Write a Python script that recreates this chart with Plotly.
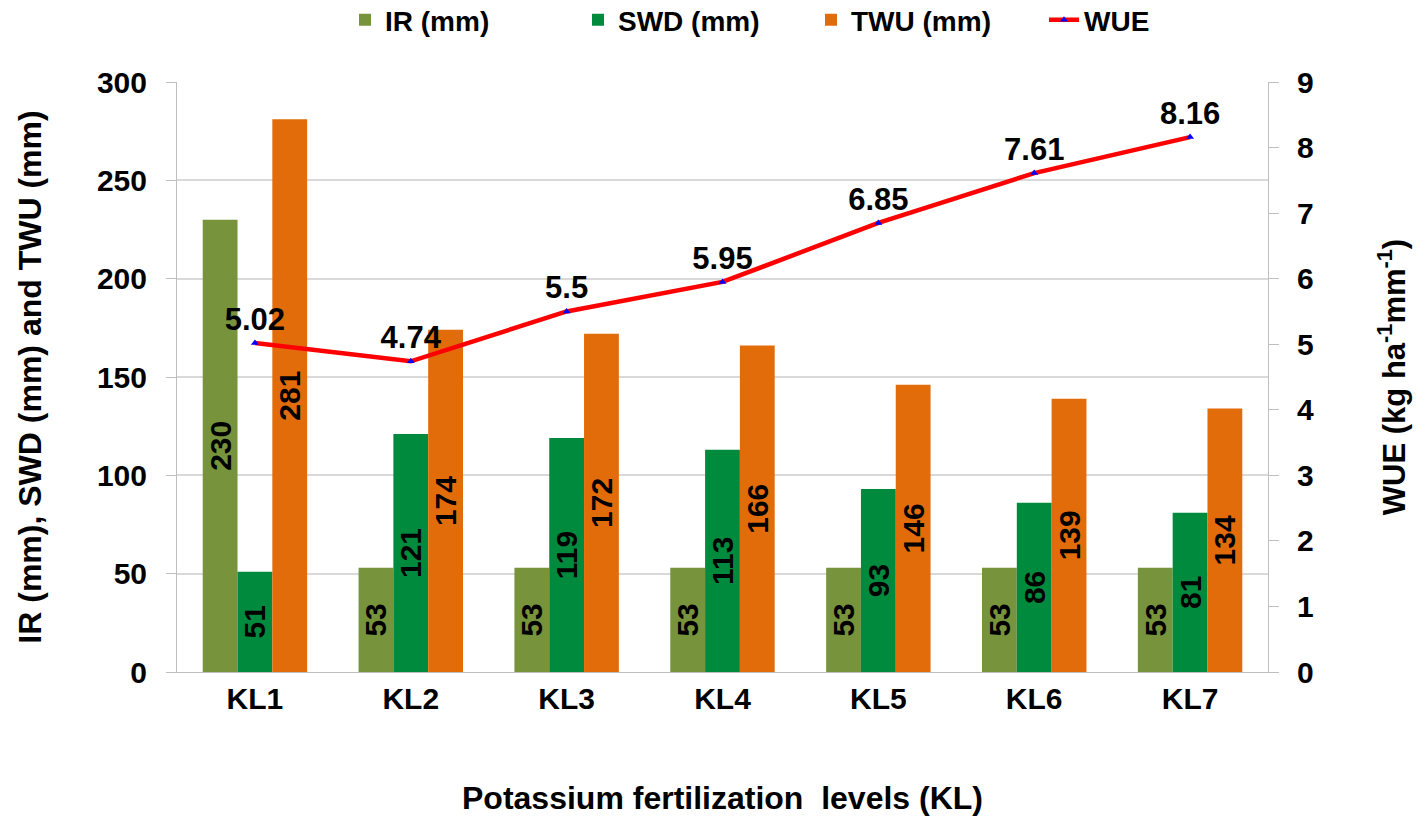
import plotly.graph_objects as go

categories = ["KL1", "KL2", "KL3", "KL4", "KL5", "KL6", "KL7"]
ir_values = [230, 53, 53, 53, 53, 53, 53]
swd_values = [51, 121, 119, 113, 93, 86, 81]
twu_values = [281, 174, 172, 166, 146, 139, 134]
wue_values = [5.02, 4.74, 5.5, 5.95, 6.85, 7.61, 8.16]
wue_labels = ["5.02", "4.74", "5.5", "5.95", "6.85", "7.61", "8.16"]

FONT = "Liberation Sans, Arial, sans-serif"
bar_text_font = dict(family=FONT, size=30, color="black", weight="bold")

fig = go.Figure()
for name, vals, col in [("IR (mm)", ir_values, "#77933C"),
                        ("SWD (mm)", swd_values, "#008A3E"),
                        ("TWU (mm)", twu_values, "#E36C0A")]:
    fig.add_trace(go.Bar(
        x=categories, y=vals, name=name, marker_color=col,
        marker_line_width=0,
        text=[str(v) for v in vals], textposition="inside",
        insidetextanchor="middle", textangle=-90,
        textfont=bar_text_font, constraintext="none",
        yaxis="y"))

fig.add_trace(go.Scatter(
    x=categories, y=wue_values, name="WUE", mode="lines+markers+text",
    line=dict(color="#FF0000", width=4.5),
    marker=dict(symbol="triangle-up", size=7, color="#0000FF"),
    text=wue_labels, textposition="top center",
    textfont=dict(family=FONT, size=31, color="black", weight="bold"),
    yaxis="y2"))

fig.update_layout(
    width=1416, height=823,
    margin=dict(l=177, r=148, t=82, b=151, autoexpand=False),
    paper_bgcolor="white", plot_bgcolor="white",
    font=dict(family=FONT, size=28, color="black", weight="bold"),
    barmode="group", bargap=0.33, bargroupgap=0,
    showlegend=True,
    legend=dict(orientation="h", x=0.154, xanchor="left", xref="paper",
                y=1.105, yanchor="middle", yref="paper",
                font=dict(family=FONT, size=28, color="black", weight="bold"),
                itemwidth=30, entrywidth=188, entrywidthmode="pixels",
                tracegroupgap=0),
    xaxis=dict(
        showline=True, linecolor="#BFBFBF", linewidth=1,
        ticks="", tickfont=dict(family=FONT, size=30, weight="bold"),
        ticklabelstandoff=0,
        title=dict(text="Potassium fertilization  levels (KL)",
                   font=dict(family=FONT, size=32, weight="bold"), standoff=72),
    ),
    yaxis=dict(
        range=[0, 300], dtick=50, showgrid=True, gridcolor="#D9D9D9",
        gridwidth=1.5, showline=True, linecolor="#BFBFBF", linewidth=1,
        ticks="outside", ticklen=10, tickcolor="#BFBFBF",
        tickfont=dict(family=FONT, size=30, weight="bold"),
        ticklabelstandoff=13,
        zeroline=False,
        title=dict(text="IR (mm), SWD (mm) and TWU (mm)",
                   font=dict(family=FONT, size=32, weight="bold"), standoff=45),
    ),
    yaxis2=dict(
        range=[0, 9], dtick=1, overlaying="y", side="right",
        showgrid=False, showline=True, linecolor="#BFBFBF", linewidth=1,
        ticks="outside", ticklen=10, tickcolor="#BFBFBF",
        tickfont=dict(family=FONT, size=30, weight="bold"),
        ticklabelstandoff=12,
        zeroline=False,
        title=dict(text="WUE (kg ha<sup>-1</sup>mm<sup>-1</sup>)",
                   font=dict(family=FONT, size=31, weight="bold"), standoff=70),
    ),
)

fig.write_html("out.html")
